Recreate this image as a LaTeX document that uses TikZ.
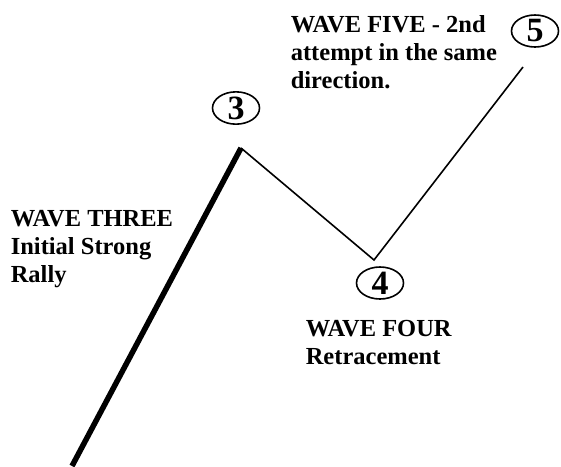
\documentclass[tikz,border=0pt]{standalone}
\usepackage{fontspec}
\setmainfont{Liberation Serif}
\usetikzlibrary{shapes.geometric}
\begin{document}
\begin{tikzpicture}[x=1pt, y=-1pt, every node/.style={ellipse,draw,line width=1.6pt,minimum width=47pt,minimum height=32pt,inner sep=0pt,font=\fontsize{34}{36}\selectfont\bfseries}]
            \useasboundingbox (0,0) rectangle (561,466);
            \node (3) at (236,108) {3};
            \node (4) at (380,283) {4};
            \node (5) at (535,31) {5};
            % Turning points
            \coordinate (start) at (72,466);
            \coordinate (top3) at (241,148);
            \coordinate (low4) at (374,260);
            \coordinate (top5) at (523,67);
            % Waves
            \draw[line width=5.5pt] (start) -- (top3);
            \draw[line width=1.6pt,line join=miter] (top3) -- (low4) -- (top5);
            % Captions
            \tikzset{caption/.style={draw=none,shape=rectangle,align=left,anchor=north west,font=\fontsize{24.5}{28}\selectfont\bfseries}}
            \node[caption] (five) at (290,15) {WAVE FIVE - 2nd\\attempt in the same\\direction.};
            \node[caption] (three) at (10,210) {WAVE THREE\\Initial Strong\\Rally};
            \node[caption] (four) at (305,319) {WAVE FOUR\\Retracement};
          \end{tikzpicture}
\end{document}
